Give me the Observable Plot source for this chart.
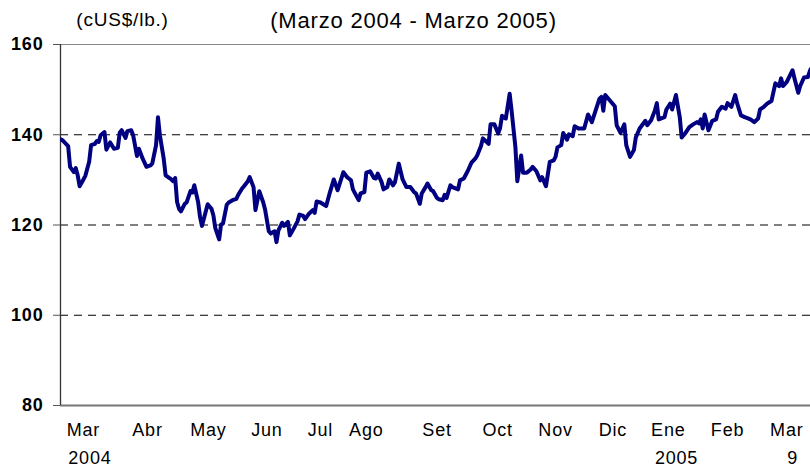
<!DOCTYPE html>
<html><head><meta charset="utf-8">
<script src="https://cdn.jsdelivr.net/npm/d3@7"></script>
<script src="https://cdn.jsdelivr.net/npm/@observablehq/plot@0.6"></script>
<style>body{margin:0;background:#fff}svg{display:block}</style>
</head><body><div id="chart"></div>
<script>
// Days since 2004-03-01 and copper price (cUS$/lb.)
const days = [
  2,3,6,7,9,10,11,12,14,15,
  17,18,20,21,22,23,25,26,28,30,
  32,33,34,36,37,39,40,42,43,45,
  47,49,50,52,53,54,56,57,60,61,
  62,63,64,65,67,68,70,71,72,74,
  75,76,78,79,81,82,83,85,86,87,
  89,90,92,94,95,97,98,100,101,103,
  104,106,108,109,111,112,114,115,116,118,
  119,121,122,124,126,127,129,130,132,134,
  135,136,138,141,143,145,147,150,152,154,
  155,158,159,161,162,164,166,167,168,170,
  171,173,174,176,177,179,181,183,185,187,
  188,190,191,193,194,196,197,199,200,202,
  203,204,206,207,210,211,213,215,217,219,
  220,222,223,225,226,227,229,231,232,233,
  235,237,238,240,241,243,244,246,248,249,
  251,253,254,256,258,260,261,262,264,265,
  267,268,270,271,273,276,278,280,282,284,
  285,286,287,289,292,293,295,297,298,300,
  302,303,305,308,309,311,313,314,315,318,
  319,321,322,324,326,327,329,331,333,335,
  336,337,338,339,341,343,345,346,348,350,
  351,353,355,356,358,360,363,365,367,368,
  370,372,374,376,378,379,380,382,385,386,
  388,389,391,393,394.4
];
const price = [
  139.0,138.8,137.5,132.9,131.7,132.6,131.0,128.6,130.1,130.9,
  134.0,137.7,138.0,138.6,138.4,139.9,140.6,136.7,138.3,136.9,
  137.1,140.5,141.0,139.3,140.8,141.0,139.9,135.3,136.9,134.7,
  132.9,133.2,133.6,137.7,143.9,139.9,134.7,131.0,130.1,129.7,
  130.4,125.1,123.6,123.0,124.7,125.0,127.5,127.2,128.8,125.1,
  121.8,119.8,123.0,124.6,123.6,122.1,119.3,116.8,120.1,120.3,
  124.5,125.0,125.5,125.8,126.7,128.1,128.6,129.7,130.6,128.4,
  123.3,127.5,125.1,123.5,118.6,118.1,118.6,116.2,118.8,120.5,
  119.8,120.7,117.7,119.2,120.8,122.3,122.0,121.3,122.5,123.3,
  122.7,125.2,125.0,124.2,127.3,130.1,127.7,131.7,130.6,129.9,
  127.9,125.5,127.0,127.3,131.6,131.9,130.4,130.3,131.4,129.5,
  127.9,128.4,130.1,128.8,129.5,133.6,130.1,128.4,128.4,127.3,
  127.0,124.7,127.0,128.4,129.2,127.7,127.5,126.0,125.7,125.5,
  126.7,126.0,128.8,128.4,127.9,129.9,130.3,131.9,133.8,134.7,
  135.4,137.5,139.2,138.4,138.0,142.3,142.3,140.3,141.5,144.2,
  143.6,149.1,145.4,137.3,129.7,135.4,131.6,131.6,132.3,132.9,
  131.9,129.9,130.6,128.6,134.0,134.3,135.1,137.2,137.7,140.4,
  138.9,140.1,139.7,141.9,141.4,141.4,144.5,142.8,145.4,148.0,
  148.4,145.3,148.8,147.8,146.3,142.1,140.4,142.3,137.7,135.1,
  136.6,139.4,141.4,143.1,142.1,143.2,145.4,147.0,143.4,143.9,
  145.6,146.9,145.6,148.8,143.9,139.4,140.4,141.7,142.3,142.8,
  142.5,143.4,141.4,144.5,141.0,143.1,143.4,145.1,146.2,145.8,
  147.0,146.2,148.8,147.0,144.3,143.9,143.4,142.8,143.6,145.6,
  146.2,147.0,147.5,151.4,150.8,152.5,150.8,151.7,154.3,152.5,
  149.3,150.8,152.7,152.8,154.5
];
const monthLabels = ["Mar","Abr","May","Jun","Jul","Ago","Set","Oct","Nov","Dic","Ene","Feb","Mar"];
const monthLabelDays = [14,47.5,79.4,110,138,162,199,230.7,261,291,320,351,382];
const yearLabels = ["2004","2005","9"];
const yearLabelDays = [17.4,324.3,385];
const yTicks = [80,100,120,140,160];
const gridValues = [100,120,140];
const title = "(Marzo 2004 - Marzo 2005)";
const unit = "(cUS$/lb.)";
const domainDays = [2, 394.4];

const base = Date.UTC(2004, 2, 1);
const toDate = d => new Date(base + d * 864e5);
const series = days.map((d, i) => ({date: toDate(d), value: price[i]}));
const font = "'Liberation Sans', Arial, sans-serif";

const chart = Plot.plot({
  width: 810,
  height: 468,
  marginLeft: 60,
  marginRight: 0,
  marginTop: 44,
  marginBottom: 63,
  style: {fontFamily: font, background: "#fff", color: "#000", letterSpacing: "0.8px"},
  x: {type: "utc", domain: domainDays.map(toDate), axis: null},
  y: {domain: [80, 160], axis: null},
  marks: [
    Plot.ruleY(gridValues, {stroke: "#000", strokeWidth: 1, strokeDasharray: "8,6"}),
    Plot.ruleY([160], {stroke: "#888", strokeWidth: 1.2}),
    Plot.ruleY([80], {stroke: "#777", strokeWidth: 1.8}),
    Plot.ruleX([toDate(domainDays[0])], {y1: 80, y2: 160, stroke: "#333", strokeWidth: 1.3}),
    Plot.axisY({ticks: yTicks, tickSize: 7, tickPadding: 10, fontSize: 18, fontWeight: "bold", stroke: "#555", fill: "#000", label: null}),
    Plot.line(series, {x: "date", y: "value", stroke: "#000080", strokeWidth: 4, strokeLinejoin: "round", clip: true}),
    Plot.text(monthLabels, {x: (d, i) => toDate(monthLabelDays[i]), text: d => d, frameAnchor: "bottom", lineAnchor: "bottom", dy: 30, fontSize: 18, fill: "#000"}),
    Plot.text(yearLabels, {x: (d, i) => toDate(yearLabelDays[i]), text: d => d, frameAnchor: "bottom", lineAnchor: "bottom", dy: 58, fontSize: 18, fill: "#000"}),
    Plot.text([title], {frameAnchor: "top", text: d => d, lineAnchor: "bottom", dx: -22, dy: -17, fontSize: 22, fill: "#000"}),
    Plot.text([unit], {frameAnchor: "top-left", text: d => d, textAnchor: "middle", lineAnchor: "bottom", dx: 62, dy: -19, fontSize: 19, fill: "#000"})
  ]
});
document.getElementById("chart").appendChild(chart);
</script>
</body></html>
